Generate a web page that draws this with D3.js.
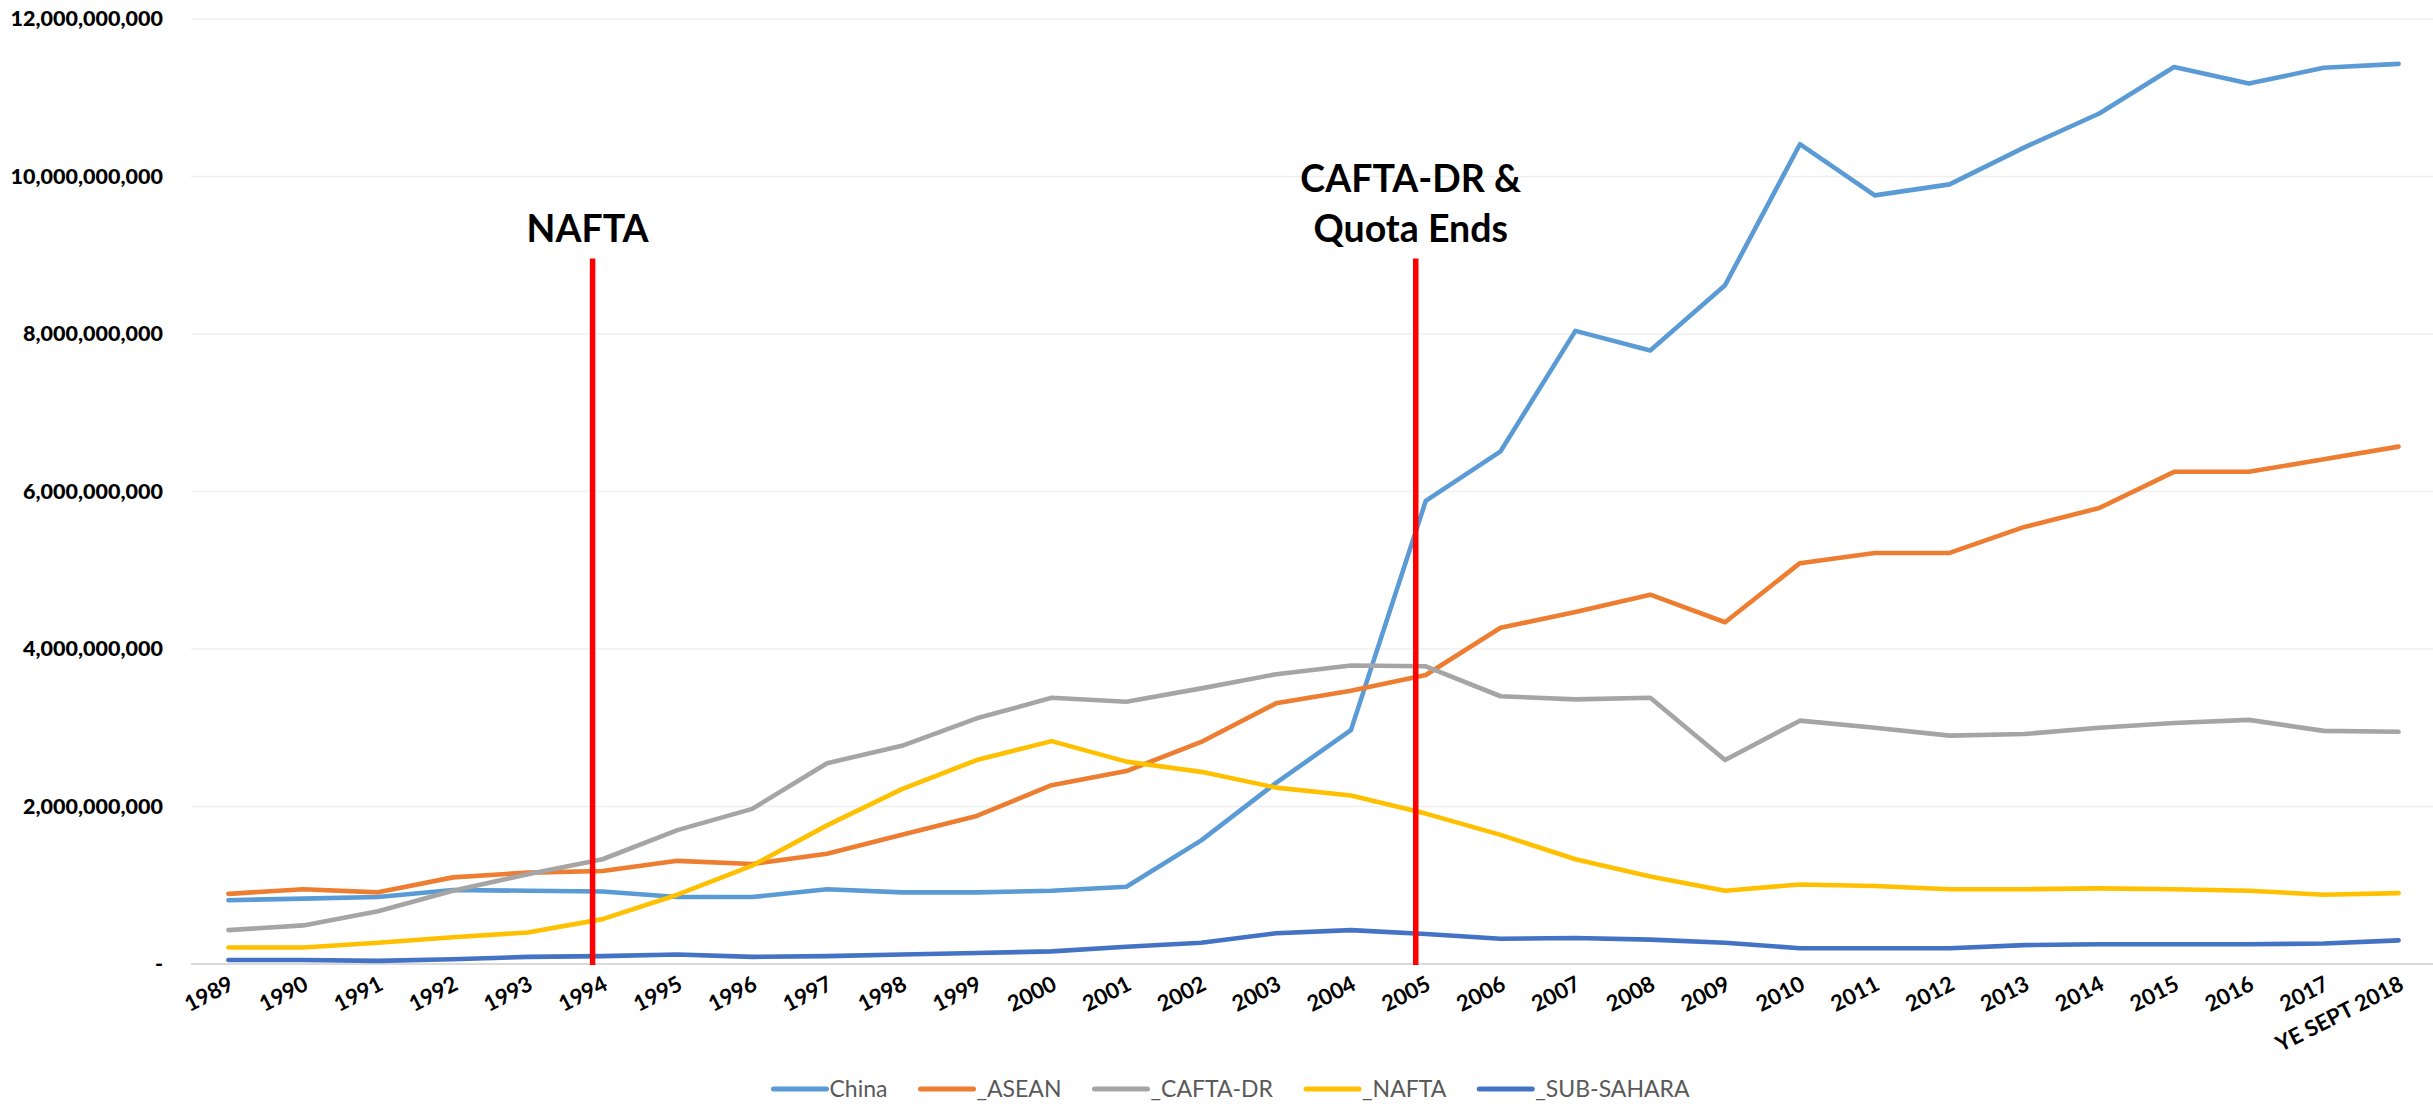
<!DOCTYPE html>
<html>
<head>
<meta charset="utf-8">
<script src="https://cdn.jsdelivr.net/npm/d3@7"></script>
<style>
  html, body { margin: 0; padding: 0; background: #ffffff; }
  svg { display: block; }
</style>
</head>
<body>
<svg id="chart" width="2433" height="1110"></svg>
<script>
// ---------- DATA ----------
const categories = ["1989","1990","1991","1992","1993","1994","1995","1996","1997","1998","1999","2000","2001","2002","2003","2004","2005","2006","2007","2008","2009","2010","2011","2012","2013","2014","2015","2016","2017","YE SEPT 2018"];

const seriesNames = ["China", "_ASEAN", "_CAFTA-DR", "_NAFTA", "_SUB-SAHARA"];

const china     = [0.81,0.83,0.85,0.94,0.93,0.92,0.85,0.85,0.95,0.91,0.91,0.93,0.98,1.57,2.30,2.97,5.88,6.51,8.04,7.79,8.62,10.41,9.76,9.90,10.37,10.80,11.39,11.18,11.38,11.43].map(v => v * 1e9);
const asean     = [0.89,0.95,0.91,1.10,1.16,1.18,1.31,1.27,1.40,1.64,1.88,2.27,2.45,2.82,3.31,3.47,3.67,4.27,4.47,4.69,4.34,5.09,5.22,5.22,5.55,5.79,6.25,6.25,6.41,6.57].map(v => v * 1e9);
const caftaDr   = [0.43,0.49,0.67,0.93,1.14,1.33,1.70,1.97,2.55,2.77,3.12,3.38,3.33,3.50,3.68,3.79,3.78,3.40,3.36,3.38,2.59,3.09,3.00,2.90,2.92,3.00,3.06,3.10,2.96,2.95].map(v => v * 1e9);
const nafta     = [0.21,0.21,0.27,0.34,0.40,0.57,0.88,1.25,1.76,2.22,2.59,2.83,2.57,2.44,2.24,2.14,1.91,1.64,1.33,1.11,0.93,1.01,0.99,0.95,0.95,0.96,0.95,0.93,0.88,0.90].map(v => v * 1e9);
const subSahara = [0.05,0.05,0.04,0.06,0.09,0.10,0.12,0.09,0.10,0.12,0.14,0.16,0.22,0.27,0.39,0.43,0.38,0.32,0.33,0.31,0.27,0.20,0.20,0.20,0.24,0.25,0.25,0.25,0.26,0.30].map(v => v * 1e9);

const yTickValues = [0, 2e9, 4e9, 6e9, 8e9, 10e9, 12e9];
const yTickLabels = ["-", "2,000,000,000", "4,000,000,000", "6,000,000,000", "8,000,000,000", "10,000,000,000", "12,000,000,000"];

const annotationYears  = ["1994", "2005"];
const annotationLabels = [["NAFTA"], ["CAFTA-DR &", "Quota Ends"]];

// ---------- STYLE / LAYOUT ----------
const colors = ["#5B9BD5", "#ED7D31", "#A5A5A5", "#FFC000", "#4472C4"];
const W = 2433, H = 1110;
const plot = { left: 191, right: 2436, top: 19, bottom: 964 };

const svg = d3.select("#chart");

const x = d3.scalePoint().domain(categories).range([plot.left, plot.right]).padding(0.5);
const y = d3.scaleLinear().domain([0, 12e9]).range([plot.bottom, plot.top]);

// gridlines
svg.append("g")
  .selectAll("line")
  .data(yTickValues.filter(v => v > 0))
  .join("line")
  .attr("x1", plot.left).attr("x2", W)
  .attr("y1", d => y(d)).attr("y2", d => y(d))
  .attr("stroke", "#EFEFEF").attr("stroke-width", 1.3);

// y axis (labels only)
const yAxis = d3.axisLeft(y)
  .tickValues(yTickValues)
  .tickFormat((d, i) => yTickLabels[i])
  .tickSize(0)
  .tickPadding(28);
const gy = svg.append("g").attr("transform", `translate(${plot.left},0)`).call(yAxis);
gy.select(".domain").remove();
gy.selectAll("text")
  .attr("font-family", "Lato, 'Open Sans', sans-serif")
  .attr("font-weight", "900")
  .attr("font-size", 21.5)
  .attr("fill", "#000");

// x axis
const xAxis = d3.axisBottom(x).tickSize(0).tickPadding(0);
const gx = svg.append("g").attr("transform", `translate(0,${plot.bottom})`).call(xAxis);
gx.select(".domain").remove();
gx.selectAll("text")
  .attr("font-family", "Lato, 'Open Sans', sans-serif")
  .attr("font-weight", "bold")
  .attr("font-size", 22)
  .attr("fill", "#000")
  .attr("text-anchor", "end")
  .attr("dy", 0)
  .attr("y", 0)
  .attr("transform", "translate(6,25) rotate(-27)");

// axis baseline
svg.append("line")
  .attr("x1", plot.left).attr("x2", W)
  .attr("y1", y(0)).attr("y2", y(0))
  .attr("stroke", "#D9D9D9").attr("stroke-width", 2.2);

// series lines
const allSeries = [china, asean, caftaDr, nafta, subSahara];
const line = d3.line()
  .x((d, i) => x(categories[i]))
  .y(d => y(d));

svg.append("g")
  .selectAll("path")
  .data(allSeries)
  .join("path")
  .attr("d", d => line(d))
  .attr("fill", "none")
  .attr("stroke", (d, i) => colors[i])
  .attr("stroke-width", 4.6)
  .attr("stroke-linejoin", "round")
  .attr("stroke-linecap", "round");

// annotation red lines + labels
const annTop = y(8.96e9);
annotationYears.forEach((yr, k) => {
  const ax = x(yr) - 10;
  svg.append("line")
    .attr("x1", ax).attr("x2", ax)
    .attr("y1", annTop).attr("y2", y(0) + 1)
    .attr("stroke", "#FF0000").attr("stroke-width", 5.5);
  const lines = annotationLabels[k];
  const t = svg.append("text")
    .attr("font-family", "Lato, 'Open Sans', sans-serif")
    .attr("font-weight", "bold")
    .attr("font-size", 37.5)
    .attr("fill", "#000")
    .attr("text-anchor", "middle");
  lines.forEach((s, j) => {
    t.append("tspan")
      .attr("x", ax - 5)
      .attr("y", annTop - 16 - (lines.length - 1 - j) * 50)
      .text(s);
  });
});

// legend
const legend = svg.append("g");
let cx = 0;
seriesNames.forEach((name, i) => {
  const g = legend.append("g").attr("transform", `translate(${cx},0)`);
  g.append("line")
    .attr("x1", 3).attr("x2", 56)
    .attr("y1", 0).attr("y2", 0)
    .attr("stroke", colors[i]).attr("stroke-width", 5)
    .attr("stroke-linecap", "round");
  const tx = g.append("text")
    .attr("x", 59).attr("y", 0).attr("dy", "0.35em")
    .attr("font-family", "Lato, 'Open Sans', sans-serif")
    .attr("font-size", 23)
    .attr("fill", "#595959")
    .text(name);
  cx += 59 + tx.node().getComputedTextLength() + 30;
});
const legendWidth = cx - 30;
legend.attr("transform", `translate(${1230 - legendWidth / 2},1089)`);
</script>
</body>
</html>
